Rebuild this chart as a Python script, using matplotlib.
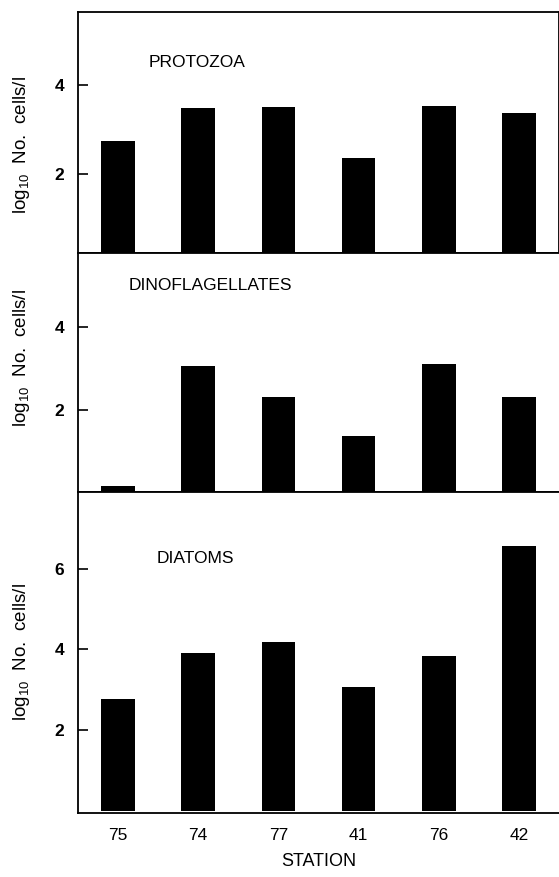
import matplotlib.pyplot as plt

stations = ['75', '74', '77', '41', '76', '42']
protozoa = [2.74, 3.48, 3.50, 2.36, 3.53, 3.37]
dinoflagellates = [0.20, 3.05, 2.31, 1.38, 3.10, 2.33]
diatoms = [2.77, 3.91, 4.19, 3.07, 3.84, 6.55]

plt.rcParams['font.family'] = ['Liberation Sans', 'DejaVu Sans']
plt.rcParams['mathtext.default'] = 'regular'

fig = plt.figure(figsize=(5.59, 8.77), dpi=100)

# name, values, axes rect, ylim, yticks, title position, ylabel y (axes coords)
panels = [
    ('PROTOZOA', protozoa, [0.1395, 0.7115, 0.8605, 0.2748], (0.22, 5.64), [2, 4], (0.146, 0.79), 0.45),
    ('DINOFLAGELLATES', dinoflagellates, [0.1395, 0.439, 0.8605, 0.2725], (0.05, 5.76), [2, 4], (0.106, 0.862), 0.56),
    ('DIATOMS', diatoms, [0.1395, 0.073, 0.8605, 0.366], (-0.06, 7.9), [2, 4, 6], (0.1625, 0.794), 0.5),
]

x = range(len(stations))
for i, (name, vals, rect, ylim, yt, tpos, ly) in enumerate(panels):
    ax = fig.add_axes(rect)
    ax.bar(x, vals, width=0.42, color='black')
    ax.set_xlim(-0.5, 5.5)
    ax.set_ylim(*ylim)
    ax.set_yticks(yt)
    ax.tick_params(axis='y', direction='in', length=7, width=1.2, pad=10, labelsize=12.5)
    for lab in ax.get_yticklabels():
        lab.set_fontweight('bold')
    ax.tick_params(axis='x', length=0, pad=11, labelsize=12.5)
    for s in ax.spines.values():
        s.set_linewidth(1.3)
    if i > 0:
        ax.spines['right'].set_visible(False)
    ax.text(tpos[0], tpos[1], name, transform=ax.transAxes, fontsize=12.5,
            va='center', ha='left')
    ax.set_ylabel(r'log$_{10}$  No.  cells/l', fontsize=13.5)
    ax.yaxis.set_label_coords(-0.096, ly)
    if i < 2:
        ax.set_xticks([])
    else:
        ax.set_xticks(list(x))
        ax.set_xticklabels(stations)
        ax.set_xlabel('STATION', fontsize=13, labelpad=7)

fig.savefig('out.png', dpi=100)
